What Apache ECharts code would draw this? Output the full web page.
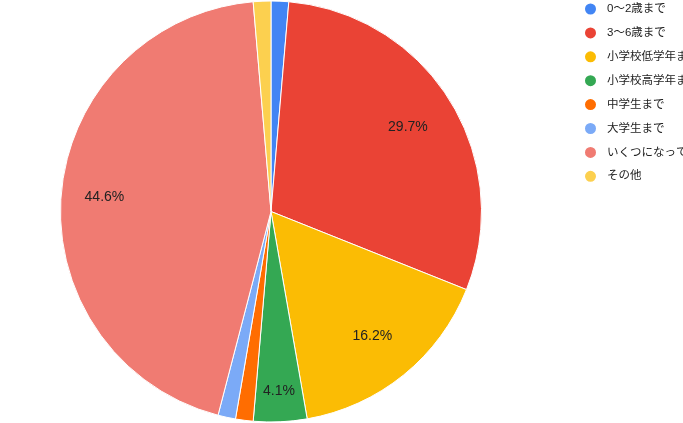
<!DOCTYPE html>
<html>
<head>
<meta charset="utf-8">
<script src="https://cdn.jsdelivr.net/npm/echarts@6/dist/echarts.min.js"></script>
<style>
html,body{margin:0;padding:0;background:#fff;}
#chart{width:683px;height:423px;}
</style>
</head>
<body>
<div id="chart"></div>
<script>
const categories = ['0～2歳まで','3～6歳まで','小学校低学年まで','小学校高学年まで','中学生まで','大学生まで','いくつになっても','その他'];
const percentValues = [1.35, 29.7, 16.2, 4.1, 1.35, 1.35, 44.6, 1.35];
const sliceColors = ['#4285f4','#ea4335','#fbbc04','#34a853','#ff6d01','#7baaf7','#f07b72','#fcd04f'];

const FONT = "'Liberation Sans', Arial, 'Noto Sans CJK JP', sans-serif";
const CX = 271, CY = 211.5, R = 210.5;

const baseData = categories.map((c, i) => ({ name: c, value: percentValues[i], itemStyle: { color: sliceColors[i] } }));

function labelOverlay(innerFrac, shownNames) {
  return {
    type: 'pie',
    center: [CX, CY],
    radius: [R * innerFrac, R],
    silent: true,
    legendHoverLink: false,
    animation: false,
    itemStyle: { color: 'rgba(0,0,0,0)', borderWidth: 0 },
    labelLine: { show: false },
    emphasis: { disabled: true },
    data: categories.map((c, i) => ({
      name: c,
      value: percentValues[i],
      itemStyle: { color: 'rgba(0,0,0,0)' },
      label: {
        show: shownNames.indexOf(c) >= 0,
        position: 'inside',
        formatter: function (p) { return p.value.toFixed(1) + '%'; },
        color: '#222',
        fontSize: 14,
        fontFamily: FONT
      }
    }))
  };
}

const chart = echarts.init(document.getElementById('chart'), null, { renderer: 'canvas' });
chart.setOption({
  backgroundColor: '#fff',
  animation: false,
  legend: {
    orient: 'vertical',
    left: 583,
    top: 1.5,
    padding: 0,
    icon: 'circle',
    itemWidth: 13,
    itemHeight: 13,
    itemGap: 8.9,
    selectedMode: false,
    data: categories,
    textStyle: {
      color: '#222',
      fontSize: 11.5,
      lineHeight: 13,
      fontFamily: FONT,
      padding: [0, 0, 0, 5]
    }
  },
  series: [
    {
      type: 'pie',
      center: [CX, CY],
      radius: [0, R],
      startAngle: 90,
      clockwise: true,
      animation: false,
      itemStyle: { borderColor: '#fff', borderWidth: 1 },
      label: { show: false },
      labelLine: { show: false },
      emphasis: { disabled: true },
      data: baseData
    },
    labelOverlay(0.5, ['3～6歳まで', '小学校低学年まで']),
    labelOverlay(0.56, ['いくつになっても']),
    labelOverlay(0.68, ['小学校高学年まで'])
  ]
});
</script>
</body>
</html>
